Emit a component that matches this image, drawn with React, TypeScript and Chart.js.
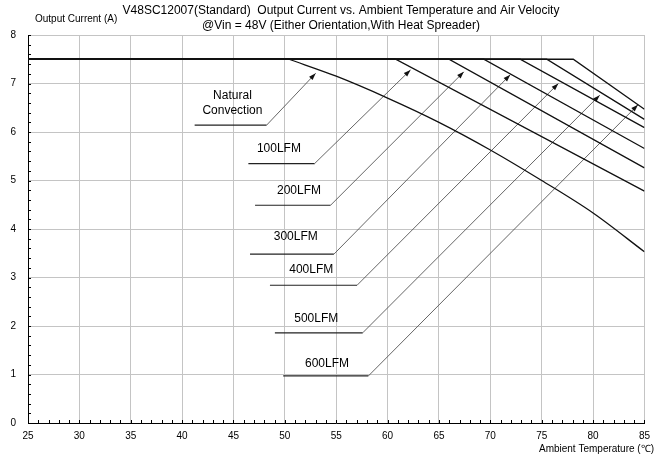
import React, { useEffect, useRef } from "react";
import { Chart, registerables } from "chart.js";

Chart.register(...registerables);

const FONT = "'Liberation Sans', Arial, Helvetica, sans-serif";

const titleLine1 = "V48SC12007(Standard)  Output Current vs. Ambient Temperature and Air Velocity";
const titleLine2 = "@Vin = 48V (Either Orientation,With Heat Spreader)";
const yAxisTitle = "Output Current (A)";
const xAxisTitle = "Ambient Temperature (\u2103)";

const xMin = 25;
const xMax = 85;
const yMin = 0;
const yMax = 8;
const maxCurrent = 7.5;

// Natural convection derating curve (from its knee)
const ncTemps = [50.4, 55, 60, 65, 70, 75, 80, 85];
const ncCurrent = [7.5, 7.15, 6.7, 6.2, 5.63, 5.0, 4.33, 3.53];

// Forced air curves (flat at 7.5 A until the knee, then linear to 85 °C)
const lfmNames = ["100LFM", "200LFM", "300LFM", "400LFM", "500LFM", "600LFM"];
const lfmKnee = [60.78, 65.97, 69.36, 72.9, 75.49, 78.07];
const lfmEndCurrent = [4.78, 5.26, 5.66, 6.09, 6.26, 6.47];

// Callouts (data units)
const calloutLabels = ["Natural\nConvection", ...lfmNames];
const calloutStartX = [41.22, 46.45, 47.1, 46.61, 48.55, 49.03, 49.84];
const calloutElbowX = [48.22, 52.9, 54.45, 54.77, 57.03, 57.58, 58.13];
const calloutLineY = [6.14, 5.35, 4.49, 3.48, 2.84, 1.86, 0.97];
const calloutTipX = [53.0, 62.23, 67.42, 71.94, 76.62, 80.65, 84.37];
const calloutTipY = [7.21, 7.28, 7.24, 7.18, 7.0, 6.76, 6.56];
const calloutTextX = [44.9, 49.42, 51.38, 51.06, 52.57, 53.06, 54.1];
const calloutTextY = [6.6, 5.66, 4.8, 3.85, 3.17, 2.15, 1.23];

const overlayPlugin = {
  id: "overlay",
  afterDraw(chart: any) {
    const { ctx, chartArea } = chart;
    const xs = chart.scales.x;
    const ys = chart.scales.y;
    ctx.save();

    // minor ticks (inward)
    ctx.strokeStyle = "#000";
    ctx.lineWidth = 1;
    ctx.beginPath();
    for (let k = 0; k <= (yMax - yMin) * 5; k++) {
      const py = Math.round(ys.getPixelForValue(yMin + k * 0.2)) + 0.5;
      ctx.moveTo(chartArea.left, py);
      ctx.lineTo(chartArea.left + 3, py);
    }
    for (let k = 0; k <= xMax - xMin; k++) {
      const px = Math.round(xs.getPixelForValue(xMin + k)) + 0.5;
      ctx.moveTo(px, chartArea.bottom);
      ctx.lineTo(px, chartArea.bottom - 3);
    }
    ctx.stroke();

    // arrowheads
    ctx.fillStyle = "#111";
    for (let i = 0; i < calloutLabels.length; i++) {
      const ex = xs.getPixelForValue(calloutElbowX[i]);
      const ey = ys.getPixelForValue(calloutLineY[i]);
      const tx = xs.getPixelForValue(calloutTipX[i]);
      const ty = ys.getPixelForValue(calloutTipY[i]);
      const dx = tx - ex;
      const dy = ty - ey;
      const len = Math.hypot(dx, dy);
      const ux = dx / len;
      const uy = dy / len;
      const L = 7;
      const W = 2.4;
      ctx.beginPath();
      ctx.moveTo(tx, ty);
      ctx.lineTo(tx - ux * L - uy * W, ty - uy * L + ux * W);
      ctx.lineTo(tx - ux * L + uy * W, ty - uy * L - ux * W);
      ctx.closePath();
      ctx.fill();
    }

    // texts
    ctx.fillStyle = "#000";
    ctx.textBaseline = "middle";
    ctx.textAlign = "center";
    ctx.font = `12px ${FONT}`;
    ctx.fillText(titleLine1, 341, 11);
    ctx.fillText(titleLine2, 341, 26);

    ctx.font = `10px ${FONT}`;
    ctx.textAlign = "left";
    ctx.fillText(yAxisTitle, 35, 19);
    ctx.textAlign = "right";
    ctx.fillText(xAxisTitle, 654, 449);

    ctx.font = `12px ${FONT}`;
    ctx.textAlign = "center";
    for (let i = 0; i < calloutLabels.length; i++) {
      const lines = calloutLabels[i].split("\n");
      const px = xs.getPixelForValue(calloutTextX[i]);
      const py = ys.getPixelForValue(calloutTextY[i]);
      lines.forEach((ln, j) => {
        ctx.fillText(ln, px, py + (j - (lines.length - 1) / 2) * 15);
      });
    }
    ctx.restore();
  },
};

export default function App() {
  const ref = useRef<HTMLCanvasElement | null>(null);

  useEffect(() => {
    if (!ref.current) return;
    const datasets: any[] = [];

    // flat part of natural convection
    datasets.push({
      label: "Natural Convection (flat)",
      data: [
        { x: xMin, y: maxCurrent },
        { x: ncTemps[0], y: ncCurrent[0] },
      ],
      borderColor: "#111",
      borderWidth: 1.3,
      pointRadius: 0,
      showLine: true,
    });
    datasets.push({
      label: "Natural Convection",
      data: ncTemps.map((t, i) => ({ x: t, y: ncCurrent[i] })),
      borderColor: "#111",
      borderWidth: 1.3,
      pointRadius: 0,
      showLine: true,
      cubicInterpolationMode: "monotone",
    });

    lfmNames.forEach((name, i) => {
      datasets.push({
        label: name,
        data: [
          { x: xMin, y: maxCurrent },
          { x: lfmKnee[i], y: maxCurrent },
          { x: xMax, y: lfmEndCurrent[i] },
        ],
        borderColor: "#111",
        borderWidth: 1.3,
        pointRadius: 0,
        showLine: true,
        tension: 0,
      });
    });

    calloutLabels.forEach((lab, i) => {
      datasets.push({
        label: "callout " + lab,
        data: [
          { x: calloutStartX[i], y: calloutLineY[i] },
          { x: calloutElbowX[i], y: calloutLineY[i] },
          { x: calloutTipX[i], y: calloutTipY[i] },
        ],
        borderColor: "#222",
        borderWidth: 1.2,
        pointRadius: 0,
        showLine: true,
        tension: 0,
        segment: {
          borderColor: (c: any) => (c.p0DataIndex === 0 ? "#222" : "#555"),
          borderWidth: (c: any) => (c.p0DataIndex === 0 ? 1.2 : 0.9),
        },
      });
    });

    const chart = new Chart(ref.current, {
      type: "scatter",
      data: { datasets },
      options: {
        responsive: false,
        animation: false,
        events: [],
        layout: { padding: { top: 35, right: 8, left: 0, bottom: 0 } },
        plugins: {
          legend: { display: false },
          tooltip: { enabled: false },
          title: { display: false },
        },
        scales: {
          x: {
            type: "linear",
            min: xMin,
            max: xMax,
            afterFit: (s: any) => {
              s.height = 33;
            },
            ticks: {
              stepSize: 5,
              color: "#000",
              font: { family: FONT, size: 10 },
              padding: 7,
              maxRotation: 0,
            },
            grid: { color: "#c4c4c4", lineWidth: 1, drawTicks: false },
            border: { color: "#000", width: 1 },
          },
          y: {
            type: "linear",
            min: yMin,
            max: yMax,
            afterFit: (s: any) => {
              s.width = 28;
            },
            ticks: {
              stepSize: 1,
              color: "#000",
              font: { family: FONT, size: 10 },
              padding: 12,
            },
            grid: { color: "#c4c4c4", lineWidth: 1, drawTicks: false },
            border: { color: "#000", width: 1 },
          },
        },
      },
      plugins: [overlayPlugin],
    });
    return () => chart.destroy();
  }, []);

  return (
    <div style={{ position: "fixed", left: 0, top: 0, width: 657, height: 456, background: "#fff" }}>
      <canvas ref={ref} width={657} height={456} />
    </div>
  );
}
